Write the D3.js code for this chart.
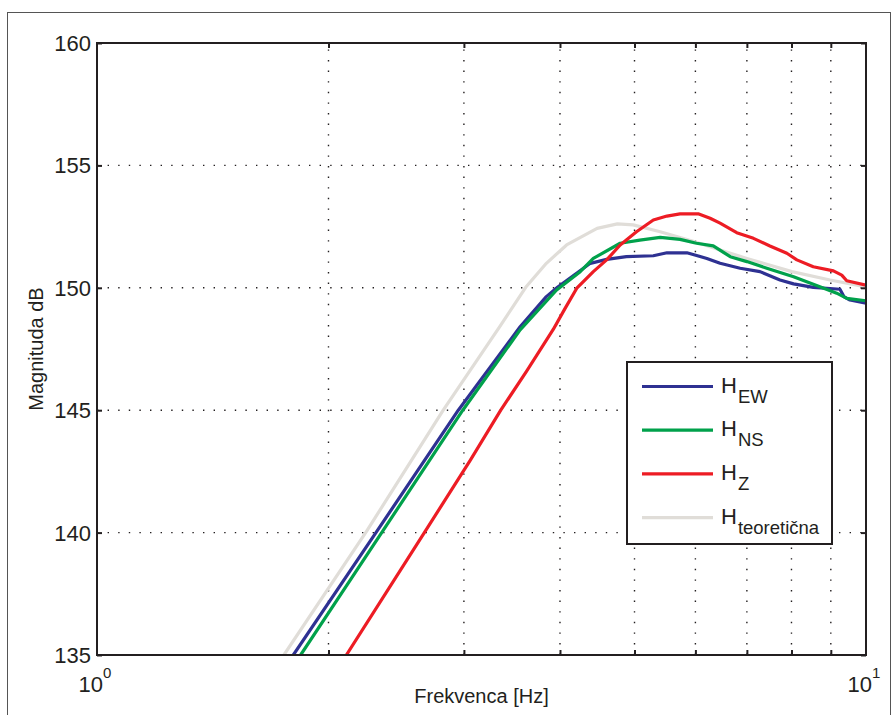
<!DOCTYPE html>
<html>
<head>
<meta charset="utf-8">
<script src="https://cdn.jsdelivr.net/npm/d3@7"></script>
<style>
  body { margin: 0; background: #fff; }
  svg text { font-family: "Liberation Sans", Arial, sans-serif; fill: #231f20; }
</style>
</head>
<body>
<svg id="chart" width="893" height="715"></svg>
<script>
// frequency [Hz] and magnitude [dB]
var freqEW = [1.80, 2.31, 2.95, 3.55, 3.84, 3.97, 4.38, 4.60, 4.88, 5.29, 5.51, 5.85, 5.99, 6.21, 6.46, 6.86, 7.28, 7.73, 8.05, 8.54, 9.25, 9.36, 9.53, 10.0];
var dbEW   = [135.0, 140.04, 145.0, 148.41, 149.64, 150.02, 151.0, 151.16, 151.27, 151.31, 151.43, 151.43, 151.34, 151.2, 151.0, 150.8, 150.66, 150.32, 150.16, 150.02, 149.94, 149.64, 149.5, 149.37];

var freqNS = [1.84, 2.35, 2.99, 3.55, 3.96, 4.25, 4.42, 4.79, 5.08, 5.40, 5.73, 6.02, 6.33, 6.66, 7.00, 7.43, 8.05, 8.71, 9.16, 9.44, 10.0];
var dbNS   = [135.0, 140.04, 145.0, 148.28, 149.91, 150.66, 151.2, 151.82, 151.95, 152.06, 151.98, 151.82, 151.71, 151.27, 151.07, 150.8, 150.45, 150.04, 149.78, 149.57, 149.47];

var freqZ = [2.11, 2.67, 3.06, 3.35, 3.62, 3.92, 4.06, 4.21, 4.42, 4.60, 4.79, 5.03, 5.29, 5.51, 5.73, 6.05, 6.27, 6.46, 6.79, 7.14, 7.50, 7.89, 8.13, 8.54, 9.07, 9.30, 9.44, 10.0];
var dbZ   = [135.0, 140.04, 142.97, 145.0, 146.6, 148.3, 149.15, 150.0, 150.66, 151.14, 151.75, 152.29, 152.77, 152.93, 153.02, 153.02, 152.84, 152.64, 152.25, 152.02, 151.71, 151.41, 151.14, 150.86, 150.69, 150.52, 150.29, 150.11];

var freqTeo = [1.75, 2.24, 2.82, 3.34, 3.61, 3.84, 4.08, 4.47, 4.75, 4.98, 5.40, 5.99, 6.46, 7.00, 8.01, 8.98, 10.0];
var dbTeo   = [135.0, 140.04, 145.0, 148.41, 150.02, 151.0, 151.75, 152.43, 152.61, 152.57, 152.29, 151.88, 151.54, 151.2, 150.66, 150.32, 150.04];

var seriesNames = ["EW", "NS", "Z", "teoretična"];
var seriesColors = ["#2e3192", "#00a14b", "#ed1c24", "#e0ddd8"];
var yTicks = [135, 140, 145, 150, 155, 160];
var xGrid = [2, 3, 4, 5, 6, 7, 8, 9];

var margin = {top: 43, right: 27, bottom: 60, left: 97},
    W = 893, H = 715,
    plotW = W - margin.left - margin.right,
    plotH = H - margin.top - margin.bottom;

var svg = d3.select("#chart");

// outer frame of the figure
svg.append("rect")
    .attr("x", 7.5).attr("y", 12.5)
    .attr("width", 883).attr("height", 720)
    .attr("fill", "none")
    .attr("stroke", "#555")
    .attr("stroke-width", 1);

var x = d3.scaleLog().domain([1, 10]).range([0, plotW]);
var y = d3.scaleLinear().domain([135, 160]).range([plotH, 0]);

var g = svg.append("g")
    .attr("transform", "translate(" + margin.left + "," + margin.top + ")");

g.append("clipPath").attr("id", "clip")
    .append("rect").attr("width", plotW).attr("height", plotH);

// dotted grid
g.selectAll(".xgrid").data(xGrid).enter().append("line")
    .attr("class", "xgrid")
    .attr("x1", function (d) { return x(d); })
    .attr("x2", function (d) { return x(d); })
    .attr("y1", plotH).attr("y2", 0)
    .attr("stroke", "#231f20")
    .attr("stroke-width", 1.4)
    .attr("stroke-dasharray", "1.4,9.2");

g.selectAll(".ygrid").data(yTicks.slice(1, -1)).enter().append("line")
    .attr("class", "ygrid")
    .attr("x1", 0).attr("x2", plotW)
    .attr("y1", function (d) { return y(d); })
    .attr("y2", function (d) { return y(d); })
    .attr("stroke", "#231f20")
    .attr("stroke-width", 1.4)
    .attr("stroke-dasharray", "1.4,9.2");

// curves
var line = d3.line()
    .x(function (d) { return x(d[0]); })
    .y(function (d) { return y(d[1]); });

var series = [
    d3.zip(freqEW, dbEW),
    d3.zip(freqNS, dbNS),
    d3.zip(freqZ, dbZ),
    d3.zip(freqTeo, dbTeo)
];
// theoretical drawn first so the measured ones sit on top
var order = [3, 0, 1, 2];
order.forEach(function (k) {
    g.append("path")
        .datum(series[k])
        .attr("clip-path", "url(#clip)")
        .attr("fill", "none")
        .attr("stroke", seriesColors[k])
        .attr("stroke-width", 3.2)
        .attr("stroke-linejoin", "round")
        .attr("d", line);
});

// axes box with inward ticks
var axisColor = "#231f20";
g.append("rect")
    .attr("width", plotW).attr("height", plotH)
    .attr("fill", "none")
    .attr("stroke", axisColor)
    .attr("stroke-width", 2);

g.append("g").attr("transform", "translate(0," + plotH + ")")
    .call(d3.axisBottom(x).tickValues(xGrid).tickSizeInner(-5).tickSizeOuter(0).tickFormat(""));
g.append("g")
    .call(d3.axisTop(x).tickValues(xGrid).tickSizeInner(-5).tickSizeOuter(0).tickFormat(""));
g.append("g")
    .call(d3.axisLeft(y).tickValues(yTicks).tickSizeInner(-5).tickSizeOuter(0).tickFormat(""));
g.append("g").attr("transform", "translate(" + plotW + ",0)")
    .call(d3.axisRight(y).tickValues(yTicks).tickSizeInner(-5).tickSizeOuter(0).tickFormat(""));
g.selectAll(".domain").remove();
g.selectAll(".tick line").attr("stroke", axisColor).attr("stroke-width", 2);

// y tick labels
g.selectAll(".ylab").data(yTicks).enter().append("text")
    .attr("class", "ylab")
    .attr("x", -6)
    .attr("y", function (d) { return y(d); })
    .attr("dy", "0.36em")
    .attr("text-anchor", "end")
    .style("font-size", "22px")
    .text(function (d) { return d; });

// x tick labels 10^0 and 10^1
[1, 10].forEach(function (d, i) {
    var t = g.append("text")
        .attr("x", x(d) - 2)
        .attr("y", plotH + 37)
        .attr("text-anchor", "middle")
        .style("font-size", "22px");
    t.append("tspan").text("10");
    t.append("tspan").attr("dy", -14).style("font-size", "15px").text(i);
});

// axis titles
svg.append("text")
    .attr("x", margin.left + plotW / 2)
    .attr("y", 703)
    .attr("text-anchor", "middle")
    .style("font-size", "20px")
    .text("Frekvenca [Hz]");

svg.append("text")
    .attr("transform", "translate(43," + (margin.top + plotH / 2) + ") rotate(-90)")
    .attr("text-anchor", "middle")
    .style("font-size", "20px")
    .text("Magnituda dB");

// legend
var leg = svg.append("g").attr("transform", "translate(627,362)");
leg.append("rect")
    .attr("width", 205).attr("height", 182)
    .attr("fill", "#fff")
    .attr("stroke", axisColor)
    .attr("stroke-width", 2);

seriesNames.forEach(function (name, i) {
    var ly = 24.5 + i * 43.7;
    leg.append("line")
        .attr("x1", 15).attr("x2", 86)
        .attr("y1", ly).attr("y2", ly)
        .attr("stroke", seriesColors[i])
        .attr("stroke-width", 3.2);
    var t = leg.append("text")
        .attr("x", 94)
        .attr("y", ly + 6)
        .style("font-size", "22px");
    t.append("tspan").text("H");
    t.append("tspan").attr("dy", 10).attr("dx", 1).style("font-size", "18.5px").text(name);
});
</script>
</body>
</html>
